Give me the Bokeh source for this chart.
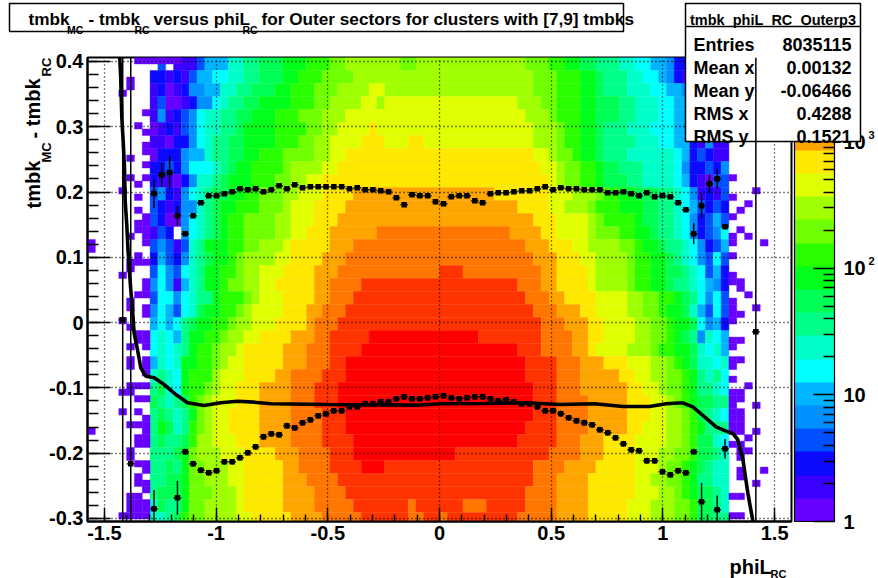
import re
from bokeh.plotting import figure
from bokeh.embed import file_html
from bokeh.resources import INLINE
from bokeh.core.properties import value
from bokeh.models import (Range1d, FixedTicker, ColorBar, LogColorMapper)

palette = ["#6600ff","#3a00ff","#0a0aff","#0050ff","#0090ff","#00b4ff","#00ffff","#00ffc8","#00ff88","#00ff55",
           "#00ff1a","#2aff00","#70ff00","#a0ff00","#e0ff00","#ffe800","#ffa500","#ff7700","#ff3300","#ff0000"]
levels = "abcdefghijklmnopqrst"

# colour level of each run (letter) and the column where it starts, one line per 0.02 band, top to bottom
rows = [
"d9 z10 b11 d14 f15 h18 i20 j22 k24 l27 m30 n32 m39 n41 m55 l58 k60 j62 i64 h66 g68 f70 e72 c73 b75 z80",
"c8 b10 c11 b12 d13 f14 g16 h18 i20 j22 k24 l26 m29 n33 m56 l59 k62 j64 i65 h67 g69 f71 e72 c73 b74 z80",
"b8 c9 a10 b11 c12 e13 f15 h17 i19 j21 k23 l25 m28 n31 o35 n37 m56 l59 k62 j64 i65 h67 g70 f72 e74 c75 z80",
"b8 d9 a10 b12 c13 e14 g16 h17 i18 j20 k22 l25 m28 n30 o34 n36 o37 n54 m57 l59 k62 j64 i66 h68 g71 f73 d75 b76 z80",
"b8 e9 b10 c11 d12 e13 g14 h15 i17 j19 k21 l23 m26 n29 o32 n55 m58 l59 k62 j64 i66 h68 g71 f73 d75 z80",
"a8 b9 c10 b11 d12 e13 g14 h15 i17 j19 k20 l23 m27 n29 o31 p35 o36 n56 m59 l60 k62 j64 i65 h67 g70 f73 d75 z80",
"b8 a10 c11 e13 g14 h15 i16 j18 k20 l23 m26 n28 o30 p34 o37 p40 o42 n56 m59 l60 k62 j64 i65 h68 g71 f73 c75 b76 e77 b78 z80",
"a8 c9 e12 f13 h15 i16 j18 k20 l22 m24 n28 o30 p32 o56 n58 m59 l61 k62 j64 i65 h67 g73 f74 c75 d76 c77 b78 z80",
"c8 d10 c11 e12 g13 h16 i17 j18 k19 l21 m24 n25 o29 p31 o57 n59 m60 l62 k64 j65 i66 h69 g73 e74 c75 d77 c78 e79 z80",
"c8 b9 a11 c12 e13 h14 i16 j17 k18 l21 m23 n25 o27 p29 o58 n59 m60 l62 k64 j65 i67 h69 g73 f74 c75 b76 a77 d78 z80",
"d8 e9 c10 b11 e12 g13 h14 i15 j16 k18 l20 m22 n24 o26 p29 q33 p51 o58 n61 m64 l65 k66 j68 i71 h73 g74 e75 b76 c77 b78 d79 z80",
"d8 c9 b10 c11 e12 h14 i15 j16 k17 l19 m22 n24 o25 p28 q32 p54 o58 n60 m63 l64 k66 j69 i71 h73 g74 f75 d76 c77 d78 c79 z80",
"d8 c9 a10 e12 g13 h14 i15 j16 k17 l18 m20 n23 o25 p28 q31 p56 o59 n63 m64 l65 k68 j69 i71 h73 g74 e75 c76 d77 f78 d79 z80",
"b8 d9 c10 z11 e12 g13 h14 i15 j16 k17 l18 m20 n23 o25 p27 q30 r36 q53 p57 o59 n63 m64 l66 k68 j70 i71 h73 g74 e75 c76 d77 e78 g79 z80",
"d8 e9 d10 b11 d12 h13 i14 k15 l18 m20 n22 o24 p25 q30 r33 q55 p58 o61 n63 m66 l68 k69 j71 i72 h74 g75 e76 c77 d78 f79 z80",
"c8 f9 d10 c11 e12 h13 i14 j15 k16 l18 m19 n20 o23 p25 q29 r32 q56 p59 o62 n64 m67 l68 k70 j72 i73 h74 g75 e76 d77 g78 d79 z80",
"d8 g9 e10 d11 g12 h13 i14 k15 l17 m19 n20 o22 p24 q28 r31 s44 r47 q57 p59 o63 n64 m67 l68 k70 j72 i74 h75 g76 d77 f78 c79 z80",
"e8 g9 e10 b11 f12 h13 i14 k15 l17 m18 n20 o22 p23 q28 r30 s34 r54 q57 p59 o63 n64 m67 l68 k70 j72 i73 h75 g76 f77 e78 c79 z80",
"d8 g9 e11 g12 h13 i14 k16 l17 m20 n21 o22 p24 q28 r30 s33 r55 q58 p60 o64 n67 m69 l71 k73 j74 i75 g76 e77 g78 d79 z80",
"e8 g9 f10 d11 g12 h13 j14 k15 l17 m19 n20 o21 p24 q27 r29 s32 r56 q59 p62 o64 n67 m69 l71 k72 j74 h75 f76 d77 g78 d79 z80",
"f8 g9 f10 g11 i12 j13 k14 l16 m18 n19 o21 p23 q27 r28 s31 r57 q60 p63 o65 n68 m70 l72 k73 j75 g76 e77 f78 c79 z80",
"g8 h9 g10 f11 i12 k13 l15 m17 n18 o20 p22 q25 r28 s30 t35 s49 r57 q61 p63 o65 n68 m70 l72 k73 j74 i75 e76 h77 g78 f79 z80",
"g8 h9 g10 h11 i12 k13 l14 m16 n17 o19 p20 q24 r27 s30 t34 s54 r57 q61 p63 o64 n67 m70 l71 k73 j75 h76 g77 h78 f79 z80",
"f8 h9 g10 h11 k12 l14 m16 n17 o18 p20 q24 r27 s30 t32 s55 r59 q62 p65 o67 n70 m72 l73 k74 j75 h76 g78 h79 z80",
"h8 i9 h10 g11 k12 l13 n16 o17 p20 q23 r25 s29 t32 s55 r59 q62 p66 o68 n70 m72 l74 k75 i76 h77 i78 g79 z80",
"i8 j9 h10 g11 k12 l13 m15 n16 o17 p19 q22 r25 s28 t31 s56 r59 q62 p67 o69 n71 m72 l74 k75 i76 h78 g79 z80",
"j8 i9 h10 i11 j12 l13 m14 n15 o16 p19 q22 r25 s28 t31 s56 r59 q63 p67 o70 n72 m73 l74 k75 j76 i78 z80",
"i8 j9 i10 h11 i12 k13 m14 n15 o16 p18 q22 r25 s29 t32 s56 r59 q63 p67 o70 n72 m74 l75 j76 i77 h78 g79 z80",
"i8 k9 j10 h11 i12 l13 m14 n15 o16 p18 q22 r25 s29 t32 s55 r59 q63 p67 o69 n72 m74 l75 k76 i77 z80",
"i8 j9 i10 j12 l13 n14 o16 p19 q22 r25 s29 t33 s54 r59 q62 p65 o68 n72 m74 l75 j76 h78 g79 z80",
"i8 j11 k12 m13 n14 o17 p20 q23 r26 s30 t33 s46 r58 q62 p65 o68 n71 m73 l75 j76 i78 h79 z80",
"i8 j10 i11 k12 m13 n15 o18 p20 q24 r26 s30 t34 s37 r56 q60 p64 o68 n71 m72 l74 k75 j76 i77 h78 z80",
"i8 j10 k12 m13 n15 o18 p20 q24 r27 s31 r56 q59 p63 o68 n70 m72 l74 k75 i76 h78 z80",
"i8 j9 k12 m13 n16 o19 p20 q24 r28 s32 r55 q59 p63 o68 n71 m73 l74 k75 j76 i78 h79 z80",
"h8 j9 i10 k12 m13 n15 o19 p20 q24 r28 s33 r40 s41 r47 s50 r55 q59 p63 o67 n70 m73 l75 j76 i78 h79 z80",
"h8 i10 j11 l12 m13 n15 o19 p21 q25 r29 s34 r40 s42 r44 s45 r54 q59 p63 o67 n70 m73 l75 j76 i78 z80",
]

# isolated single-count bins: fine row -> columns
specks = {0:[6,7,8,9,10,11],3:[5],4:[5],5:[4],8:[7],10:[6],11:[7],13:[7],14:[7],15:[5],16:[7],18:[5,7,80],19:[6],
20:[4,83],21:[6,80],22:[82],23:[6,81],24:[7,80],25:[6,7],26:[6,7,81],27:[5,7,80,82],28:[0,7,80,84],29:[0],30:[6,80],
31:[5,6,7],32:[5],33:[4,80],34:[7,80,81],35:[7,81],36:[6,7,82],37:[5,80],38:[5,7,80,83],39:[7,80,81],40:[4,80],41:[5],
42:[6,7],43:[6,7,80,81],44:[5,7,80],46:[5,7,80,81],47:[5,7,80],48:[7],49:[80],50:[5,6,7,82],51:[4,5,80,81],52:[6,7,80,81],
53:[80,83],54:[4,6,80,81],55:[7,80,81],56:[5,6,7,80,81],57:[0,7,80,81,83],58:[6,7,82],59:[6,7,80,81],60:[5,81,82],61:[5,81],
62:[6,7],63:[7,81,84],64:[6,81],65:[6,7,83],66:[7],67:[5,6,80,81],68:[5,6,7],69:[5,6,7],70:[4,5,6,7,80,81]}

upper_x = [-1.278,-1.243,-1.208,-1.173,-1.138,-1.103,-1.068,-1.033,-0.998,-0.963,-0.928,-0.893,-0.858,-0.823,-0.788,-0.753,-0.718,-0.683,-0.648,-0.613,-0.578,-0.543,-0.508,-0.473,-0.438,-0.403,-0.368,-0.333,-0.298,-0.263,-0.228,-0.193,-0.158,-0.123,-0.088,-0.053,-0.018,
0.018,0.053,0.088,0.123,0.158,0.193,0.228,0.263,0.298,0.333,0.368,0.403,0.438,0.473,0.508,0.543,0.578,0.613,0.648,0.683,0.718,0.753,0.788,0.823,0.858,0.893,0.928,0.963,0.998,1.033,1.068,1.103,1.138,1.173,1.208,1.243,1.278]
upper_y = [.1977,.2264,.2300,.1636,.1360,.1636,.1835,.1942,.1942,.1973,.2003,.2049,.2034,.2049,.2003,.2034,.2095,.2049,.2110,.2064,.2080,.2080,.2080,.2080,.2080,.2049,.2064,.2034,.2034,.2019,.2003,.1912,.1805,.1958,.1942,.1942,.1851,
.1819,.1927,.1942,.1942,.1866,.1835,.1973,.1988,.1988,.2003,.2019,.2019,.2049,.2080,.2034,.2064,.2049,.2049,.2034,.2034,.2034,.1988,.1988,.2003,.1973,.1942,.1988,.1927,.1942,.1927,.1835,.1727,.1360,.1789,.2126,.2202,.1467]
upper_big_err = {-1.278:.022,-1.243:.018,-1.208:.025,-1.173:.015,1.138:.016,1.173:.019,1.208:.014,1.243:.0145}

lower_x = [-1.418,-1.382,-1.278,-1.173,-1.138,-1.103,-1.068,-1.033,-0.998,-0.963,-0.928,-0.893,-0.858,-0.823,-0.788,-0.753,-0.718,-0.683,-0.648,-0.613,-0.578,-0.543,-0.508,-0.473,-0.438,-0.403,-0.368,-0.333,-0.298,-0.263,-0.228,-0.193,-0.158,-0.123,-0.088,-0.053,-0.018,
0.018,0.053,0.088,0.123,0.158,0.193,0.228,0.263,0.298,0.333,0.368,0.403,0.438,0.473,0.508,0.543,0.578,0.613,0.648,0.683,0.718,0.753,0.788,0.823,0.858,0.893,0.928,0.963,0.998,1.033,1.068,1.103,1.138,1.173,1.243,1.278,1.416]
lower_y = [.0042,-.2163,-.2853,-.2684,-.1979,-.2163,-.2261,-.2301,-.2270,-.2133,-.2133,-.2071,-.1994,-.1903,-.1749,-.1704,-.1719,-.1581,-.1612,-.1535,-.1489,-.1428,-.1397,-.1351,-.1351,-.1290,-.1290,-.1244,-.1244,-.1213,-.1213,-.1167,-.1136,-.1167,-.1167,-.1152,-.1136,
-.1121,-.1152,-.1167,-.1152,-.1136,-.1136,-.1167,-.1198,-.1182,-.1213,-.1244,-.1244,-.1290,-.1351,-.1351,-.1397,-.1458,-.1504,-.1535,-.1566,-.1642,-.1688,-.1765,-.1857,-.1949,-.1964,-.2117,-.2117,-.2286,-.2332,-.2270,-.2301,-.1979,-.2745,-.2868,-.1933,-.0141]
lower_big_err = {-1.418:1.0,-1.382:1.0,-1.278:.029,-1.173:.026,1.173:.029,1.243:.022,1.278:.015,1.416:1.0}

curve_x = [-1.431,-1.427,-1.422,-1.416,-1.410,-1.407,-1.400,-1.394,-1.388,-1.382,-1.374,-1.367,-1.352,-1.337,-1.315,-1.277,-1.233,-1.180,-1.128,-1.054,-0.979,-0.904,-0.830,-0.755,-0.501,-0.098,0.0,0.194,0.388,0.537,0.694,0.821,0.940,1.015,1.089,1.134,1.179,1.238,1.283,1.313,1.335,1.358,1.380,1.403]
curve_y = [.4061,.3755,.3142,.2785,.2376,.1866,.1508,.1100,.0795,.0508,.0201,-.0157,-.0412,-.0693,-.0821,-.0846,-.0948,-.1102,-.1229,-.1270,-.1229,-.1204,-.1219,-.1244,-.1255,-.1265,-.1244,-.1239,-.1229,-.1255,-.1244,-.1285,-.1285,-.1244,-.1229,-.1290,-.1423,-.1597,-.1663,-.1699,-.1791,-.2097,-.2608,-.3047]

x_major = [-1.5,-1,-0.5,0,0.5,1,1.5]
x_minor = [-1.5,-1.4,-1.3,-1.2,-1.1,-1,-.9,-.8,-.7,-.6,-.5,-.4,-.3,-.2,-.1,0,.1,.2,.3,.4,.5,.6,.7,.8,.9,1,1.1,1.2,1.3,1.4,1.5]
y_major = [-0.3,-0.2,-0.1,0,0.1,0.2,0.3,0.4]
y_minor = [-.3,-.28,-.26,-.24,-.22,-.2,-.18,-.16,-.14,-.12,-.1,-.08,-.06,-.04,-.02,0,.02,.04,.06,.08,.1,.12,.14,.16,.18,.2,.22,.24,.26,.28,.3,.32,.34,.36,.38,.4]
cb_major = [1,10,100,1000]
cb_minor = [2,3,4,5,6,7,8,9,20,30,40,50,60,70,80,90,200,300,400,500,600,700,800,900,2000,3000,4000]

stats_names = ["Entries","Mean x","Mean y","RMS x","RMS y"]
stats_vals = ["8035115","0.00132","-0.06466","0.4288","0.1521"]

X0, X1, Y0, Y1 = -1.5756, 1.5756, -0.3047, 0.4061
DX = (X1-X0)/90
DY = 0.00996
ABS = {"position": "absolute", "left": "0px", "top": "0px"}

p = figure(width=878, height=578, output_backend="svg", toolbar_location=None,
           x_range=Range1d(X0, X1), y_range=Range1d(Y0, Y1),
           min_border_left=87, min_border_right=87, min_border_top=57, min_border_bottom=57,
           background_fill_color="white", border_fill_color="white",
           outline_line_color="black", outline_line_width=2)
p.styles = ABS

def snap(c):
    return round(c*45/44)

L, R, T, B, C = [], [], [], [], []
for k, row in enumerate(rows):
    toks = re.findall(r"([a-z])(\d+)", row)
    for (lv, c0), (_, c1) in zip(toks, toks[1:]):
        if lv == "z":
            continue
        L.append(X0+snap(int(c0))*DX); R.append(X0+snap(int(c1))*DX)
        T.append(Y1-k*2*DY); B.append(Y1-(k+1)*2*DY)
        C.append(palette[levels.index(lv)])
for r_, cols in specks.items():
    for c in cols:
        L.append(X0+snap(c)*DX); R.append(X0+(snap(c)+1)*DX)
        T.append(Y1-r_*DY); B.append(Y1-(r_+1)*DY)
        C.append(palette[0])
p.quad(left=L, right=R, top=T, bottom=B, fill_color=C, line_color=C, line_width=0.4, level="image")

p.xgrid.ticker = FixedTicker(ticks=x_major)
p.ygrid.ticker = FixedTicker(ticks=y_major)
for g in (p.xgrid[0], p.ygrid[0]):
    g.grid_line_color = "black"; g.grid_line_dash = "1 3"; g.grid_line_width = 1.3; g.level = "underlay"

def draw_points(xs, ys, big, small):
    sx0, sx1, sy0, sy1 = [], [], [], []
    for x, y in zip(xs, ys):
        e = big.get(x, small)
        if e < 0.5:
            sx0.append(x); sx1.append(x); sy0.append(y-e); sy1.append(y+e)
    p.segment(sx0, sy0, sx1, sy1, line_color="black", line_width=1.4)
    p.segment([x-DX/2 for x in xs], ys, [x+DX/2 for x in xs], ys, line_color="black", line_width=1.2)
    p.scatter(xs, ys, marker="square", size=5.5, fill_color="black", line_color="black", line_width=0)

draw_points(upper_x, upper_y, upper_big_err, 0.002)
draw_points(lower_x, lower_y, lower_big_err, 0.0045)
p.line(curve_x, curve_y, line_color="black", line_width=3.6)

xa = p.xaxis[0]; ya = p.yaxis[0]
xa.ticker = FixedTicker(ticks=x_major, minor_ticks=x_minor)
ya.ticker = FixedTicker(ticks=y_major, minor_ticks=y_minor)
xa.major_label_overrides = {-1.5:"-1.5",-1:"-1",-0.5:"-0.5",0:"0",0.5:"0.5",1:"1",1.5:"1.5"}
ya.major_label_overrides = {-0.3:"-0.3",-0.2:"-0.2",-0.1:"-0.1",0:"0",0.1:"0.1",0.2:"0.2",0.3:"0.3",0.4:"0.4"}
for a, maj, mnr in ((xa, 14, 7), (ya, 23, 11)):
    a.major_tick_in = maj; a.major_tick_out = 0; a.minor_tick_in = mnr; a.minor_tick_out = 0
    a.major_tick_line_color = "black"; a.minor_tick_line_color = "black"
    a.major_tick_line_width = 1.4; a.minor_tick_line_width = 1.4
    a.axis_line_color = "black"; a.axis_line_width = 2
    a.major_label_text_font = "Liberation Sans"; a.major_label_text_font_style = "bold"
    a.major_label_text_font_size = "20px"; a.major_label_text_color = "black"
    a.major_label_standoff = 4
ya.major_label_orientation = "horizontal"

cb = ColorBar(color_mapper=LogColorMapper(palette=palette, low=1, high=4620), ticker=FixedTicker(ticks=cb_major, minor_ticks=cb_minor),
              major_label_overrides={1:"1",10:"10",100:"10",1000:"10"}, width=40, height=464, location=(707,0), padding=0,
              major_tick_in=21, minor_tick_in=11, major_tick_line_color="black", minor_tick_line_color="black",
              major_tick_line_width=1.3, minor_tick_line_width=1.3,
              bar_line_color="black", bar_line_width=1.2, border_line_color=None, background_fill_alpha=0,
              label_standoff=9, major_label_text_font="Liberation Sans", major_label_text_font_style="bold",
              major_label_text_font_size="20px", major_label_text_color="black")
p.add_layout(cb)

# transparent layer in page pixels for the title, the stats box and the axis titles
q = figure(width=878, height=578, output_backend="svg", toolbar_location=None,
           x_range=Range1d(0, 878), y_range=Range1d(578, 0), min_border=0,
           background_fill_alpha=0, border_fill_alpha=0, outline_line_color=None)
q.axis.visible = False; q.grid.visible = False; q.styles = ABS

def txt(x, y, s, size, align="left", angle=0):
    q.text([x], [y], text=[s], text_font=value("Liberation Sans"), text_font_style="bold",
           text_font_size=f"{size}px", text_align=align, text_baseline="alphabetic", angle=angle, text_color="black")
def box(l, r, t, b, lw=1.5):
    q.quad(left=[l], right=[r], top=[t], bottom=[b], fill_color="white", fill_alpha=1, line_color="black", line_width=lw)

txt(868, 260, "2", 11); txt(868, 134, "3", 11)
box(9, 623, 3, 31)
txt(28, 18, "tmbk", 17.2); txt(66.5, 29, "MC", 10.5); txt(88, 18, "- tmbk", 17.2); txt(134, 29, "RC", 10.5)
txt(153, 18, "versus phiL", 17.2); txt(242, 29, "RC", 10.5); txt(261, 18, "for Outer sectors for clusters with [7,9] tmbks", 17.2)

box(685, 860, 3, 141)
q.segment([685], [26], [860], [26], line_color="black", line_width=1.4)
txt(772.5, 19, "tmbk_phiL_RC_Outerp3", 14.5, "center")
for n, v, y in zip(stats_names, stats_vals, (44, 67, 90, 113, 136)):
    txt(693, y, n, 18); txt(851, y, v, 18, "right")

txt(33, 208, "tmbk", 20, angle=1.5708); txt(46, 162, "MC", 13, angle=1.5708)
txt(33, 138, "- tmbk", 20, angle=1.5708); txt(46, 76, "RC", 13, angle=1.5708)
txt(729, 566, "phiL", 20); txt(770, 573, "RC", 11)

# top layer: the full-range error bars, which the reference draws over the stats box
r = figure(width=878, height=578, output_backend="svg", toolbar_location=None,
           x_range=Range1d(X0, X1), y_range=Range1d(Y0, Y1),
           min_border_left=87, min_border_right=87, min_border_top=57, min_border_bottom=57,
           background_fill_alpha=0, border_fill_alpha=0, outline_line_color=None)
r.axis.visible = False; r.grid.visible = False; r.styles = ABS
full_x = [x for x in lower_x if lower_big_err.get(x, 0) >= 1]
r.segment(full_x, [Y0]*len(full_x), full_x, [Y1]*len(full_x), line_color="black", line_width=1.5)

open("out.html", "w").write(file_html([p, q, r], INLINE))
